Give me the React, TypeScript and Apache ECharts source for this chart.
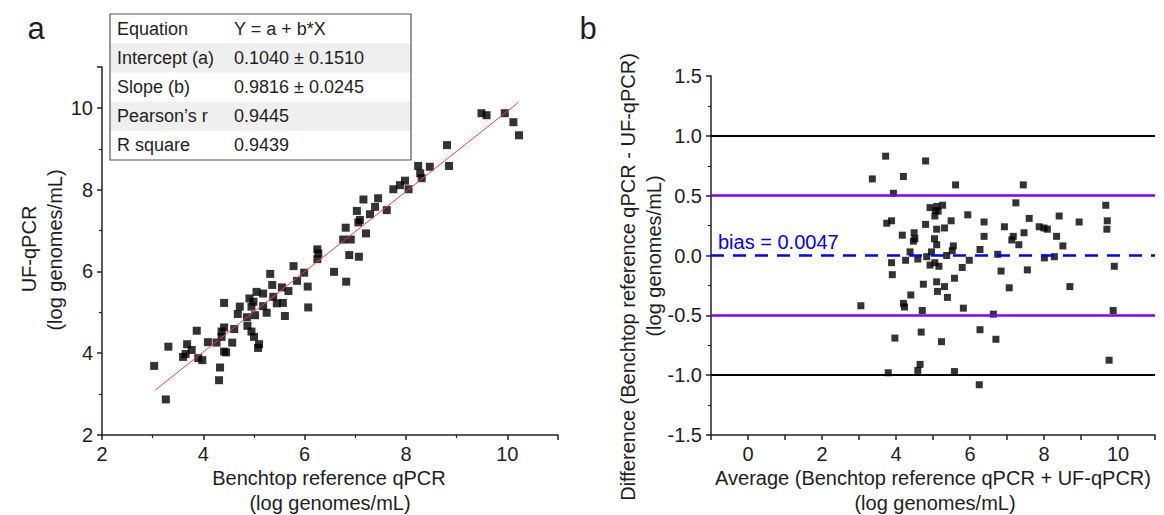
import React, { useEffect, useRef } from "react";
import * as echarts from "echarts";

const FONT = "'Liberation Sans', Arial, sans-serif";

// Panel a: Benchtop reference qPCR (x) vs UF-qPCR (y), log genomes/mL
const scatterA: [number, number][] = [
  [9.49, 9.87], [9.59, 9.82], [9.95, 9.87], [10.12, 9.65], [10.23, 9.33],
  [8.81, 9.09], [8.85, 8.58], [8.24, 8.58], [8.47, 8.56], [8.28, 8.4],
  [8.31, 8.28], [7.75, 8.01], [7.88, 8.11], [7.98, 8.22], [8.05, 8.01],
  [7.16, 7.76], [7.45, 7.79], [7.39, 7.58], [7.03, 7.48], [7.29, 7.4],
  [7.62, 7.5], [7.09, 7.26], [7.06, 7.2], [6.81, 7.07], [7.21, 6.93],
  [6.76, 6.78], [6.91, 6.78], [6.25, 6.54], [6.27, 6.44], [6.25, 6.3],
  [6.88, 6.4], [7.07, 6.36], [5.78, 6.13], [5.99, 5.97], [5.32, 5.94],
  [5.85, 5.77], [6.06, 5.63], [5.36, 5.67], [5.55, 5.61], [5.68, 5.52],
  [5.18, 5.46], [5.05, 5.5], [5.38, 5.38], [5.45, 5.22], [5.57, 5.23],
  [6.58, 5.99], [6.82, 5.75], [4.91, 5.34], [4.99, 5.26], [4.95, 5.14],
  [5.18, 5.15], [5.25, 4.99], [5.02, 4.93], [4.86, 4.88], [5.61, 4.91],
  [6.07, 5.12], [4.72, 5.14], [4.68, 4.96], [4.41, 5.23], [4.41, 4.63],
  [4.36, 4.53], [4.61, 4.59], [4.87, 4.67], [4.95, 4.53], [5.0, 4.4],
  [5.1, 4.22], [5.08, 4.13], [4.36, 4.4], [4.26, 4.26], [4.57, 4.26],
  [4.41, 4.04], [4.45, 4.02], [4.33, 3.65], [4.31, 3.34], [3.87, 4.55],
  [4.09, 4.27], [3.68, 4.22], [3.77, 4.08], [3.6, 3.91], [3.65, 3.98],
  [3.9, 3.88], [3.98, 3.83], [3.31, 4.16], [3.03, 3.69], [3.26, 2.87],
];

// Linear fit shown in the table
const INTERCEPT = 0.104;
const SLOPE = 0.9816;
const fitRangeX = [3.05, 10.22];

const tableLabels = ["Equation", "Intercept (a)", "Slope (b)", "Pearson\u2019s r", "R square"];
const tableValues = ["Y = a + b*X", "0.1040 \u00b1 0.1510", "0.9816 \u00b1 0.0245", "0.9445", "0.9439"];

// Panel b: Bland-Altman (average, difference)
const scatterB: [number, number][] = [
  [3.72, 0.83], [3.36, 0.64], [4.2, 0.66], [3.93, 0.52], [3.75, 0.27], [3.88, 0.29],
  [4.17, 0.17], [4.49, 0.19], [4.47, 0.12], [4.51, 0.14], [4.38, 0.03], [4.26, -0.04],
  [3.88, -0.06], [3.9, -0.16], [4.4, -0.33], [4.2, -0.4], [4.23, -0.43], [3.05, -0.42],
  [3.97, -0.69], [3.79, -0.98], [4.65, -0.91], [4.59, -0.96], [4.68, -0.64], [4.8, 0.79],
  [5.61, 0.59], [7.44, 0.59], [7.24, 0.44], [9.67, 0.42], [9.71, 0.29], [9.7, 0.22],
  [8.95, 0.28], [8.41, 0.33], [4.92, 0.4], [5.1, 0.41], [5.26, 0.42], [5.05, 0.33],
  [5.07, 0.375], [5.14, 0.37], [5.94, 0.34], [5.49, 0.29], [4.8, 0.26], [5.1, 0.22],
  [5.31, 0.23], [6.38, 0.28], [6.38, 0.16], [6.93, 0.24], [7.6, 0.31], [7.46, 0.19],
  [7.17, 0.16], [7.13, 0.13], [7.32, 0.09], [7.87, 0.24], [8.0, 0.23], [8.09, 0.22],
  [8.34, 0.16], [8.51, 0.08], [5.04, 0.14], [5.1, 0.09], [5.55, 0.08], [5.52, 0.04],
  [4.96, 0.03], [4.83, -0.01], [4.59, -0.03], [5.37, 0.0], [6.27, 0.05], [6.75, 0.01],
  [5.98, -0.04], [5.79, -0.1], [4.92, -0.08], [5.16, -0.09], [5.05, -0.06], [8.01, -0.02],
  [8.28, -0.01], [9.9, -0.09], [6.84, -0.13], [7.55, -0.12], [5.58, -0.19], [4.74, -0.24],
  [5.1, -0.22], [5.12, -0.3], [5.31, -0.26], [5.39, -0.35], [7.06, -0.27], [8.7, -0.26],
  [4.71, -0.46], [5.82, -0.44], [6.63, -0.49], [9.87, -0.46], [5.23, -0.72], [6.27, -0.62],
  [6.7, -0.7], [9.76, -0.875], [5.58, -0.97], [6.25, -1.08],
];

const BIAS = 0.0047;
const outerLimits = [1.0, -1.0];
const innerLimits = [0.5, -0.5];

const AXIS_COLOR = "#222";
const TEXT_COLOR = "#1e1e1e";

function axisCommon() {
  return {
    type: "value" as const,
    axisLine: { show: true, onZero: false, lineStyle: { color: AXIS_COLOR, width: 1.5 } },
    axisTick: { show: true, inside: false, length: 5, lineStyle: { color: AXIS_COLOR, width: 1.5 } },
    splitLine: { show: false },
    axisLabel: { fontSize: 20, color: TEXT_COLOR, margin: 9, fontFamily: FONT },
  };
}

export default function App() {
  const ref = useRef<HTMLDivElement>(null);
  useEffect(() => {
    if (!ref.current) return;
    const chart = echarts.init(ref.current, undefined, { renderer: "svg" });

    const tableX = 110;
    const tableY = 14;
    const tableW = 301;
    const rowH = 29.2;
    const tableEls: any[] = [];
    tableLabels.forEach((lab, i) => {
      if (i % 2 === 1) {
        tableEls.push({
          type: "rect",
          shape: { x: tableX, y: tableY + i * rowH, width: tableW, height: rowH },
          style: { fill: "#efefef" },
          z: 1,
        });
      }
      tableEls.push({
        type: "text",
        x: tableX + 7,
        y: tableY + (i + 0.5) * rowH,
        style: { text: lab, fontSize: 18, fontFamily: FONT, fill: TEXT_COLOR, align: "left", verticalAlign: "middle" },
        z: 3,
      });
      tableEls.push({
        type: "text",
        x: tableX + 124,
        y: tableY + (i + 0.5) * rowH,
        style: { text: tableValues[i], fontSize: 18, fontFamily: FONT, fill: TEXT_COLOR, align: "left", verticalAlign: "middle" },
        z: 3,
      });
    });
    tableEls.push({
      type: "rect",
      shape: { x: tableX, y: tableY, width: tableW, height: rowH * tableLabels.length },
      style: { fill: "none", stroke: "#555", lineWidth: 1.2 },
      z: 4,
    });

    const titleStyle = (text: string) => ({ text, fontSize: 20, fontFamily: FONT, fill: TEXT_COLOR, align: "center", verticalAlign: "middle" });

    const option: any = {
      animation: false,
      textStyle: { fontFamily: FONT },
      grid: [
        { left: 102, top: 67, width: 456, height: 368 },
        { left: 711, top: 76, width: 444, height: 359 },
      ],
      xAxis: [
        {
          ...axisCommon(),
          gridIndex: 0,
          min: 2,
          max: 11,
          interval: 2,
          minorTick: { show: true, splitNumber: 2, length: 3, lineStyle: { color: AXIS_COLOR, width: 1.2 } },
          axisLabel: { ...axisCommon().axisLabel, showMaxLabel: false },
        },
        {
          ...axisCommon(),
          gridIndex: 1,
          min: -1,
          max: 11,
          interval: 1,
          axisLabel: {
            ...axisCommon().axisLabel,
            formatter: (v: number) => (Math.round(v) % 2 === 0 ? String(v) : ""),
          },
        },
      ],
      yAxis: [
        {
          ...axisCommon(),
          gridIndex: 0,
          min: 2,
          max: 11,
          interval: 2,
          minorTick: { show: true, splitNumber: 2, length: 3, lineStyle: { color: AXIS_COLOR, width: 1.2 } },
          axisLabel: { ...axisCommon().axisLabel, showMaxLabel: false },
        },
        {
          ...axisCommon(),
          gridIndex: 1,
          min: -1.5,
          max: 1.5,
          interval: 0.5,
          minorTick: { show: true, splitNumber: 2, length: 3, lineStyle: { color: AXIS_COLOR, width: 1.2 } },
          axisLabel: { ...axisCommon().axisLabel, formatter: (v: number) => v.toFixed(1) },
        },
      ],
      series: [
        {
          type: "line",
          xAxisIndex: 0,
          yAxisIndex: 0,
          data: fitRangeX.map((x) => [x, INTERCEPT + SLOPE * x]),
          symbol: "none",
          lineStyle: { color: "#ff3b3b", width: 1 },
          z: 3,
        },
        {
          type: "scatter",
          xAxisIndex: 0,
          yAxisIndex: 0,
          data: scatterA,
          symbol: "rect",
          symbolSize: 8,
          itemStyle: { color: "#000" },
          z: 2,
        },
        {
          type: "scatter",
          xAxisIndex: 1,
          yAxisIndex: 1,
          data: scatterB,
          symbol: "rect",
          symbolSize: 7,
          itemStyle: { color: "#000" },
          z: 2,
          markLine: {
            silent: true,
            symbol: "none",
            animation: false,
            data: [
              ...outerLimits.map((v) => ({ yAxis: v, lineStyle: { color: "#000", width: 2, type: "solid" }, label: { show: false } })),
              ...innerLimits.map((v) => ({ yAxis: v, lineStyle: { color: "#8000ff", width: 2.5, type: "solid" }, label: { show: false } })),
              {
                yAxis: BIAS,
                lineStyle: { color: "#0000ff", width: 2.5, type: [13, 9] },
                label: {
                  show: true,
                  position: "insideStartTop",
                  formatter: "bias = " + BIAS.toFixed(4),
                  color: "#0000ff",
                  fontSize: 20,
                  fontFamily: FONT,
                  distance: [7, 4],
                },
              },
            ],
          },
        },
      ],
      graphic: [
        ...tableEls,
        { type: "text", x: 36, y: 28, style: { ...titleStyle("a"), fontSize: 31 } },
        { type: "text", x: 588, y: 28, style: { ...titleStyle("b"), fontSize: 31 } },
        { type: "text", x: 329, y: 478, style: titleStyle("Benchtop reference qPCR") },
        { type: "text", x: 330, y: 503, style: titleStyle("(log genomes/mL)") },
        { type: "text", x: 29, y: 249, rotation: Math.PI / 2, style: titleStyle("UF-qPCR") },
        { type: "text", x: 55, y: 250, rotation: Math.PI / 2, style: titleStyle("(log genomes/mL)") },
        { type: "text", x: 933, y: 478, style: titleStyle("Average (Benchtop reference qPCR + UF-qPCR)") },
        { type: "text", x: 935, y: 503, style: titleStyle("(log genomes/mL)") },
        { type: "text", x: 628, y: 277, rotation: Math.PI / 2, style: titleStyle("Difference (Benchtop reference qPCR - UF-qPCR)") },
        { type: "text", x: 654, y: 256, rotation: Math.PI / 2, style: titleStyle("(log genomes/mL)") },
      ],
    };
    chart.setOption(option);
    return () => chart.dispose();
  }, []);
  return (
    <div
      ref={ref}
      style={{ position: "absolute", left: 0, top: 0, width: 1164, height: 515, background: "#fff" }}
    />
  );
}
